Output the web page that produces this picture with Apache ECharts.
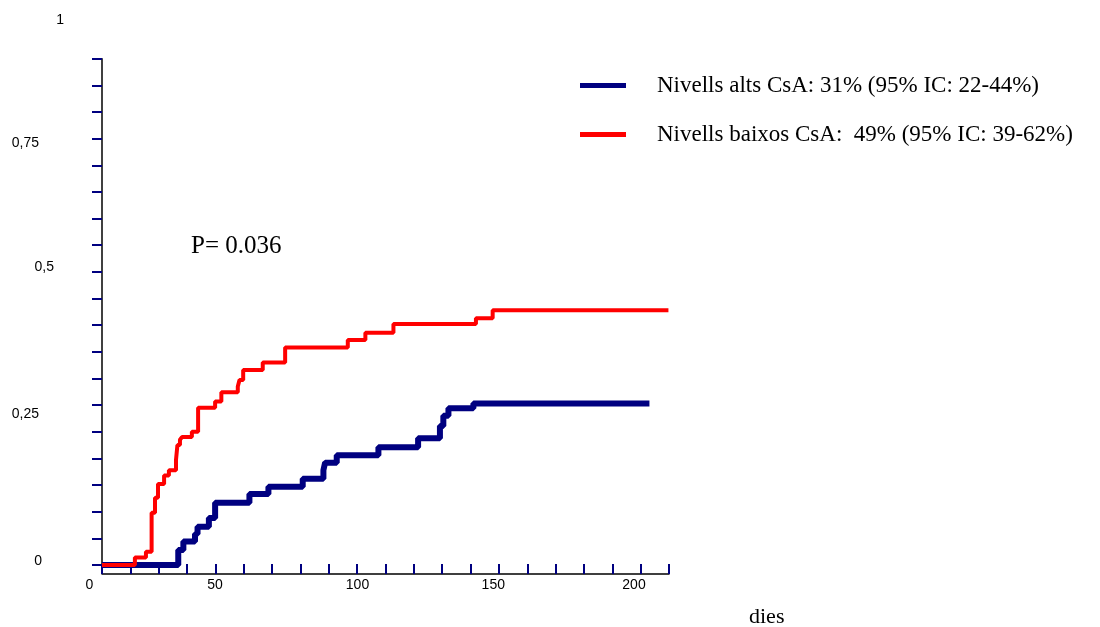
<!DOCTYPE html>
<html>
<head>
<meta charset="utf-8">
<script src="https://cdn.jsdelivr.net/npm/echarts@6/dist/echarts.min.js"></script>
<style>html,body{margin:0;padding:0;background:#fff}#c{width:1100px;height:627px}</style>
</head>
<body>
<div id="c"></div>
<script>
// ---- data ----
const seriesNames = ['Nivells alts CsA: 31% (95% IC: 22-44%)', 'Nivells baixos CsA:  49% (95% IC: 39-62%)'];
// [day, cumulative incidence] at each jump
const altsCsA = [
  [0, 0], [26.9, 0.028], [28.7, 0.044], [32.8, 0.058], [33.7, 0.072], [37.7, 0.088],
  [39.9, 0.117], [52.0, 0.133], [58.7, 0.147], [70.8, 0.162], [78.1, 0.178], [78.7, 0.192],
  [82.8, 0.206], [97.5, 0.221], [111.5, 0.238], [119.2, 0.261], [120.4, 0.280],
  [122.2, 0.294], [131.0, 0.303], [193.1, 0.303]
];
const baixosCsA = [
  [0, 0], [11.6, 0.014], [15.5, 0.025], [17.5, 0.098], [18.7, 0.126], [19.75, 0.152],
  [21.9, 0.168], [23.6, 0.178], [26.1, 0.197], [26.6, 0.225], [27.5, 0.235], [28.2, 0.240],
  [31.7, 0.250], [33.9, 0.295], [39.9, 0.307], [42.1, 0.324], [47.9, 0.335], [48.5, 0.347],
  [49.8, 0.366], [56.7, 0.380], [64.6, 0.408], [86.7, 0.422], [92.9, 0.436], [102.8, 0.452],
  [131.9, 0.463], [137.8, 0.478], [199.8, 0.478]
];
const xTickLabels = ['0', '50', '100', '150', '200'];
const yTickLabels = ['1', '0,75', '0,5', '0,25', '0'];
const pValueText = 'P= 0.036';
const xAxisTitle = 'dies';

// ---- layout (kept separate from data) ----
const xLabelPos = [89.5, 215, 357.5, 493.3, 634];   // centre x
const xLabelY = 585;
const yLabelPos = [[64, 20], [39, 143], [54, 267], [39, 414], [42, 561]]; // right edge x, centre y

const graphics = [];
xTickLabels.forEach((t, i) => graphics.push({
  type: 'text', x: xLabelPos[i], y: xLabelY,
  style: { text: t, font: '14px "Liberation Sans", Arial, sans-serif', fill: '#000', align: 'center', verticalAlign: 'middle' }
}));
yTickLabels.forEach((t, i) => graphics.push({
  type: 'text', x: yLabelPos[i][0], y: yLabelPos[i][1],
  style: { text: t, font: '14px "Liberation Sans", Arial, sans-serif', fill: '#000', align: 'right', verticalAlign: 'middle' }
}));
graphics.push({
  type: 'text', x: 191, y: 246,
  style: { text: pValueText, font: '25px "Liberation Serif", "Times New Roman", serif', fill: '#000', align: 'left', verticalAlign: 'middle' }
});
graphics.push({
  type: 'text', x: 749, y: 617,
  style: { text: xAxisTitle, font: '22px "Liberation Serif", "Times New Roman", serif', fill: '#000', align: 'left', verticalAlign: 'middle' }
});

const chart = echarts.init(document.getElementById('c'), null, { renderer: 'canvas' });
chart.setOption({
  animation: false,
  backgroundColor: '#fff',
  grid: { left: 102, top: 58.7, right: 431, bottom: 62, containLabel: false },
  legend: {
    orient: 'vertical', left: 575, top: 69, itemWidth: 46, itemHeight: 5, itemGap: 26,
    icon: 'rect', data: seriesNames, selectedMode: false,
    textStyle: { fontFamily: '"Liberation Serif", "Times New Roman", serif', fontSize: 23, color: '#000', padding: [0, 0, 8, 26] }
  },
  xAxis: {
    type: 'value', min: 0, max: 200, interval: 10, offset: 9,
    axisLine: { show: true, onZero: false, lineStyle: { color: '#000', width: 1.5 } },
    axisTick: { show: true, inside: true, length: 10, lineStyle: { color: '#000080', width: 2 } },
    axisLabel: { show: false }, splitLine: { show: false }
  },
  yAxis: {
    type: 'value', min: 0, max: 0.95, interval: 0.05,
    axisLine: { show: true, lineStyle: { color: '#000', width: 1.5 } },
    axisTick: { show: true, inside: false, length: 10, lineStyle: { color: '#000080', width: 2 } },
    axisLabel: { show: false }, splitLine: { show: false }
  },
  series: [
    { name: seriesNames[0], type: 'line', step: 'end', data: altsCsA, symbol: 'none',
      itemStyle: { color: '#000080' }, lineStyle: { color: '#000080', width: 6 } },
    { name: seriesNames[1], type: 'line', step: 'end', data: baixosCsA, symbol: 'none',
      itemStyle: { color: '#ff0000' }, lineStyle: { color: '#ff0000', width: 4 } }
  ],
  graphic: graphics
});
</script>
</body>
</html>
